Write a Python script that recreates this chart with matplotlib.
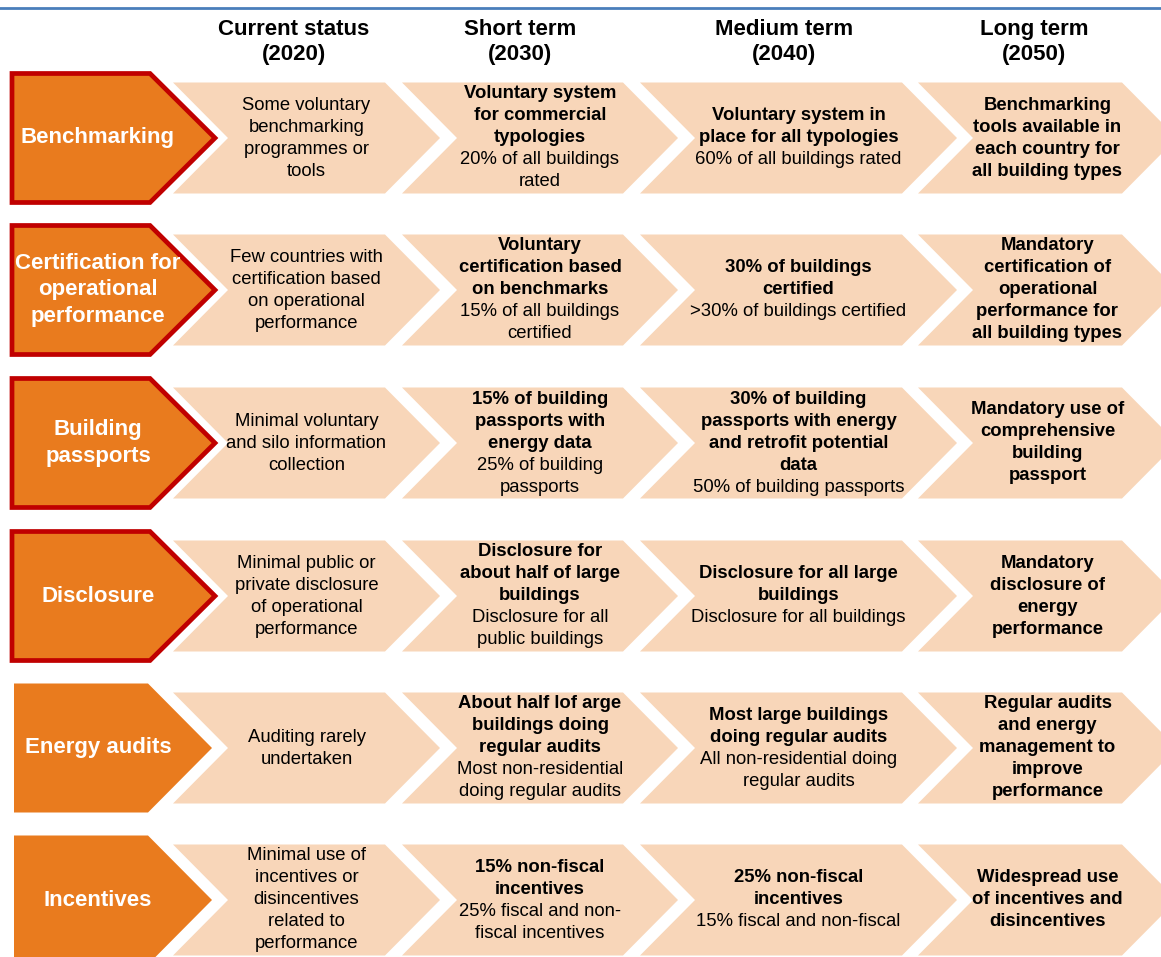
import matplotlib.pyplot as plt
from matplotlib.patches import Polygon

# --- content ---
periods = ['Current status\n(2020)', 'Short term\n(2030)', 'Medium term\n(2040)', 'Long term\n(2050)']
topics = ['Benchmarking', 'Certification for\noperational\nperformance', 'Building\npassports',
          'Disclosure', 'Energy audits', 'Incentives']
highlighted = [True, True, True, True, False, False]

# each cell: (bold part, regular part)
current = [
    ('', 'Some voluntary\nbenchmarking\nprogrammes or\ntools'),
    ('', 'Few countries with\ncertification based\non operational\nperformance'),
    ('', 'Minimal voluntary\nand silo information\ncollection'),
    ('', 'Minimal public or\nprivate disclosure\nof operational\nperformance'),
    ('', 'Auditing rarely\nundertaken'),
    ('', 'Minimal use of\nincentives or\ndisincentives\nrelated to\nperformance'),
]
short = [
    ('Voluntary system\nfor commercial\ntypologies', '20% of all buildings\nrated'),
    ('Voluntary\ncertification based\non benchmarks', '15% of all buildings\ncertified'),
    ('15% of building\npassports with\nenergy data', '25% of building\npassports'),
    ('Disclosure for\nabout half of large\nbuildings', 'Disclosure for all\npublic buildings'),
    ('About half lof arge\nbuildings doing\nregular audits', 'Most non-residential\ndoing regular audits'),
    ('15% non-fiscal\nincentives', '25% fiscal and non-\nfiscal incentives'),
]
medium = [
    ('Voluntary system in\nplace for all typologies', '60% of all buildings rated'),
    ('30% of buildings\ncertified', '>30% of buildings certified'),
    ('30% of building\npassports with energy\nand retrofit potential\ndata', '50% of building passports'),
    ('Disclosure for all large\nbuildings', 'Disclosure for all buildings'),
    ('Most large buildings\ndoing regular audits', 'All non-residential doing\nregular audits'),
    ('25% non-fiscal\nincentives', '15% fiscal and non-fiscal'),
]
long_ = [
    ('Benchmarking\ntools available in\neach country for\nall building types', ''),
    ('Mandatory\ncertification of\noperational\nperformance for\nall building types', ''),
    ('Mandatory use of\ncomprehensive\nbuilding\npassport', ''),
    ('Mandatory\ndisclosure of\nenergy\nperformance', ''),
    ('Regular audits\nand energy\nmanagement to\nimprove\nperformance', ''),
    ('Widespread use\nof incentives and\ndisincentives', ''),
]
cells = [current, short, medium, long_]

# --- layout (pixel units) ---
row_y = [138, 290, 443, 596, 748, 900]
col_left = [173, 402, 640, 918]
col_corner = [385, 623, 902, 1122]
header_x = [294, 520, 784, 1034]
depth = 55
half_h = 55.5
line_h = 22

ORANGE = '#e97b1e'
RED = '#c00000'
LIGHT = '#f8d6b9'
FONT = ['Liberation Sans Narrow', 'Liberation Sans', 'DejaVu Sans']

fig = plt.figure(figsize=(11.61, 9.57), dpi=100)
ax = fig.add_axes([0, 0, 1, 1])
ax.set_xlim(0, 1161)
ax.set_ylim(957, 0)
ax.axis('off')

ax.plot([0, 1161], [8, 8], color='#4a7ebb', lw=2)

for x, h in zip(header_x, periods):
    ax.text(x, 42, h, ha='center', va='center', fontsize=16, fontweight='bold',
            family=FONT, linespacing=1.2)

for r, yc in enumerate(row_y):
    # left topic arrow
    if highlighted[r]:
        hh = 64.5
        pts = [(12, yc - hh), (150, yc - hh), (215, yc), (150, yc + hh), (12, yc + hh)]
        ax.add_patch(Polygon(pts, closed=True, fc=ORANGE, ec=RED, lw=3.4, joinstyle='miter'))
    else:
        hh = 64.5
        pts = [(14, yc - hh), (148, yc - hh), (212, yc), (148, yc + hh), (14, yc + hh)]
        ax.add_patch(Polygon(pts, closed=True, fc=ORANGE, ec='none'))
    ax.text(98, yc, topics[r], ha='center', va='center', color='white', fontsize=16,
            fontweight='bold', family=FONT, linespacing=1.35)

    # timeline chevrons
    for c in range(4):
        l, k = col_left[c], col_corner[c]
        pts = [(l, yc - half_h), (k, yc - half_h), (k + depth, yc), (k, yc + half_h),
               (l, yc + half_h), (l + depth, yc)]
        ax.add_patch(Polygon(pts, closed=True, fc=LIGHT, ec='none'))

        bold, reg = cells[c][r]
        lines = [(s, 'bold') for s in bold.split('\n') if bold] + \
                [(s, 'normal') for s in reg.split('\n') if reg]
        cx = (l + k + depth) / 2
        y0 = yc - (len(lines) - 1) / 2 * line_h
        for i, (s, w) in enumerate(lines):
            ax.text(cx, y0 + i * line_h, s, ha='center', va='center', fontsize=13.3,
                    fontweight=w, family=FONT, color='black')

fig.savefig('out.png', dpi=100)
